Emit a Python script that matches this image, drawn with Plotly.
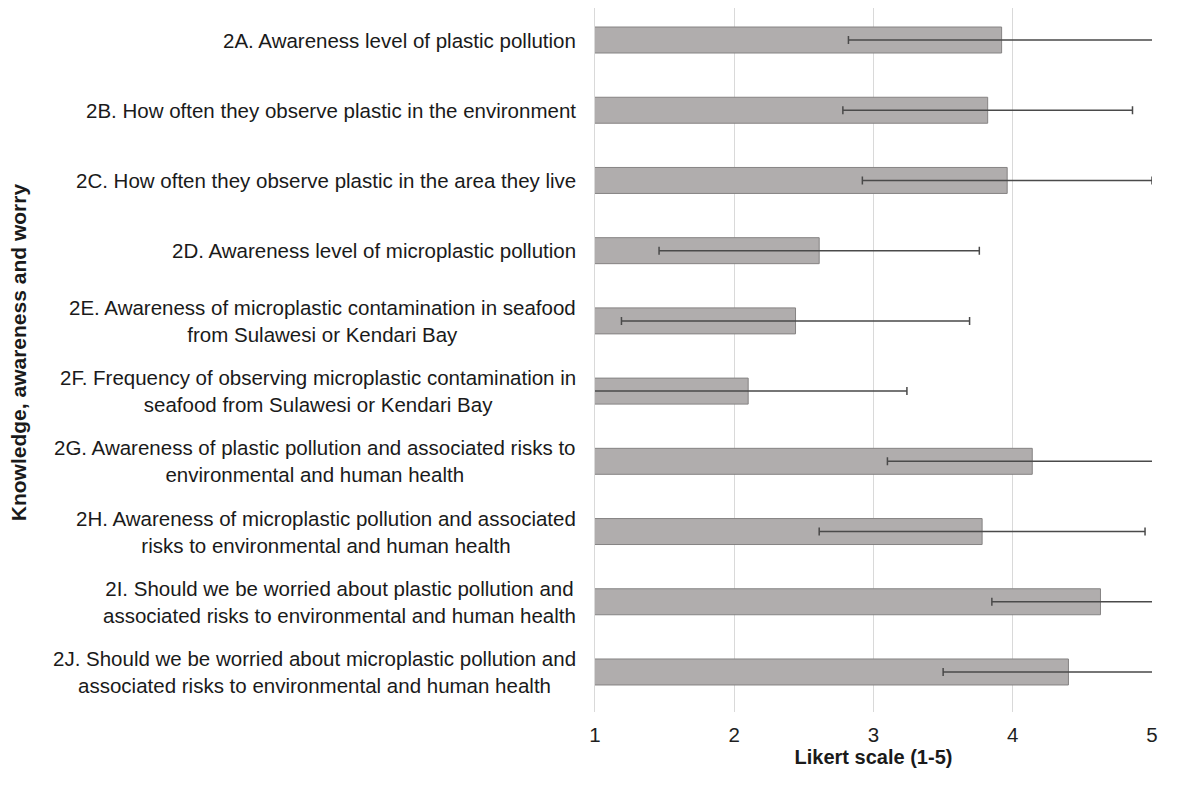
import plotly.graph_objects as go

# Survey items (top to bottom)
labels = [
    "2A. Awareness level of plastic pollution",
    "2B. How often they observe plastic in the environment",
    "2C. How often they observe plastic in the area they live",
    "2D. Awareness level of microplastic pollution",
    "2E. Awareness of microplastic contamination in seafood<br>from Sulawesi or Kendari Bay",
    "2F. Frequency of observing microplastic contamination in<br>seafood from Sulawesi or Kendari Bay",
    "2G. Awareness of plastic pollution and associated risks to<br>environmental and human health",
    "2H. Awareness of microplastic pollution and associated<br>risks to environmental and human health",
    "2I. Should we be worried about plastic pollution and<br>associated risks to environmental and human health",
    "2J. Should we be worried about microplastic pollution and<br>associated risks to environmental and human health",
]
ids = ["2A", "2B", "2C", "2D", "2E", "2F", "2G", "2H", "2I", "2J"]

# mean Likert score and standard deviation
means = [3.92, 3.82, 3.96, 2.61, 2.44, 2.10, 4.14, 3.78, 4.63, 4.40]
sds = [1.10, 1.04, 1.04, 1.15, 1.25, 1.14, 1.04, 1.17, 0.78, 0.90]

FONT = 'Liberation Sans, Arial, sans-serif'

fig = go.Figure()

fig.add_trace(go.Bar(
    y=ids,
    x=means,
    orientation='h',
    marker=dict(color='#B0ADAD', line=dict(color='#858383', width=1)),
    error_x=dict(type='data', array=sds, visible=True,
                 color='#4A4A4A', thickness=1.5, width=4),
    showlegend=False,
))

# category labels, each line centred like the original
for cid, lab in zip(ids, labels):
    fig.add_annotation(
        x=0, xref='paper', y=cid, yref='y',
        text=lab, showarrow=False,
        xanchor='right', xshift=-17, align='center',
        font=dict(family=FONT, size=20.5, color='#1a1a1a'),
    )

# y axis title
fig.add_annotation(
    x=-1.036, xref='paper', y=0.511, yref='paper',
    text="<b>Knowledge, awareness and worry</b>", showarrow=False,
    textangle=-90, xanchor='center', yanchor='middle',
    font=dict(family=FONT, size=21, color='#1a1a1a'),
)

fig.update_layout(
    width=1181, height=785,
    template='plotly_white',
    paper_bgcolor='white',
    plot_bgcolor='white',
    bargap=0.63,
    margin=dict(t=0, l=587, r=37, b=81),
    font=dict(family=FONT, color='#1a1a1a'),
    xaxis=dict(
        range=[1, 5],
        tickvals=[1, 2, 3, 4, 5],
        showgrid=True, gridcolor='#D9D9D9', gridwidth=1,
        zeroline=False, showline=False,
        ticks='outside', ticklen=4, tickcolor='rgba(0,0,0,0)',
        tickfont=dict(size=20.5, color='#1f1f1f'),
        title=dict(text="<b>Likert scale (1-5)</b>", standoff=3,
                   font=dict(size=20, color='#1a1a1a')),
    ),
    yaxis=dict(
        categoryorder='array', categoryarray=ids,
        range=[9.57, -0.456],
        showticklabels=False, showgrid=False,
        zeroline=False, ticks='',
        showline=True, linecolor='#D9D9D9', linewidth=1,
    ),
)

fig.write_html("out.html")
